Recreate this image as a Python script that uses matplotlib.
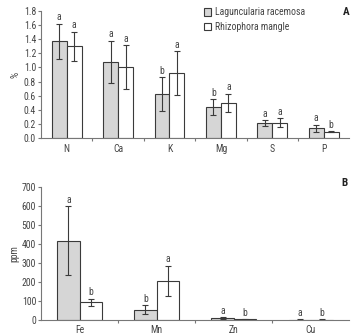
import matplotlib
matplotlib.use("Agg")
import matplotlib.pyplot as plt
import numpy as np

plt.rcParams['font.family'] = ['Roboto Condensed', 'DejaVu Sans']

# panel A: macronutrients (%)
macro = ["N", "Ca", "K", "Mg", "S", "P"]
lag_macro = [1.37, 1.08, 0.62, 0.44, 0.21, 0.14]
lag_macro_err = [0.25, 0.30, 0.24, 0.11, 0.04, 0.05]
rhi_macro = [1.30, 1.01, 0.92, 0.50, 0.22, 0.09]
rhi_macro_err = [0.21, 0.31, 0.31, 0.13, 0.06, 0.01]
lag_macro_let = ["a", "a", "b", "b", "a", "a"]
rhi_macro_let = ["a", "a", "a", "a", "a", "b"]

# panel B: micronutrients (ppm)
micro = ["Fe", "Mn", "Zn", "Cu"]
lag_micro = [418, 54, 10, 2]
lag_micro_err = [180, 23, 3, 1]
rhi_micro = [93, 205, 3, 2]
rhi_micro_err = [18, 80, 1, 1]
lag_micro_let = ["a", "b", "a", "a"]
rhi_micro_let = ["b", "a", "b", "b"]

txt = "#444444"
edge = "#3a3a3a"
gray = "#d6d6d6"
w = 0.29

fig = plt.figure(figsize=(3.53, 3.35), dpi=100)
axA = fig.add_axes([0.116, 0.588, 0.874, 0.379])
axB = fig.add_axes([0.116, 0.045, 0.874, 0.397])


def draw(ax, cats, lag, lag_e, rhi, rhi_e, lag_l, rhi_l, ymax, step, fmt, pad, ylabel):
    x = np.arange(len(cats))
    ax.bar(x - w / 2, lag, w, yerr=lag_e, color=gray, edgecolor=edge, linewidth=0.8,
           error_kw=dict(ecolor=edge, elinewidth=0.8, capsize=2, capthick=0.8),
           label="Laguncularia racemosa")
    ax.bar(x + w / 2, rhi, w, yerr=rhi_e, color="white", edgecolor=edge, linewidth=0.8,
           error_kw=dict(ecolor=edge, elinewidth=0.8, capsize=2, capthick=0.8),
           label="Rhizophora mangle")
    for i in range(len(cats)):
        ax.text(x[i] - w / 2, lag[i] + lag_e[i] + pad, lag_l[i], ha="center", va="bottom",
                fontsize=7, color=txt)
        ax.text(x[i] + w / 2, rhi[i] + rhi_e[i] + pad, rhi_l[i], ha="center", va="bottom",
                fontsize=7, color=txt)
    ax.set_xlim(-0.5, len(cats) - 0.5)
    ax.set_ylim(0, ymax)
    ax.set_yticks(np.arange(0, ymax + step / 2, step))
    ax.yaxis.set_major_formatter(plt.FormatStrFormatter(fmt))
    ax.set_xticks(x)
    ax.set_xticklabels(cats)
    ax.set_xticks(np.arange(0.5, len(cats) - 0.5), minor=True)
    ax.tick_params(axis="x", which="major", length=0, pad=4, labelsize=7, labelcolor=txt)
    ax.tick_params(axis="x", which="minor", length=2, width=0.8, color="#777777")
    ax.tick_params(axis="y", length=2, width=0.8, color="#777777", labelsize=7,
                   labelcolor=txt, pad=1.5)
    for s in ["top", "right"]:
        ax.spines[s].set_visible(False)
    for s in ["left", "bottom"]:
        ax.spines[s].set_color("#777777")
        ax.spines[s].set_linewidth(0.8)
    ax.set_ylabel(ylabel, fontsize=7, color=txt, labelpad=2)


draw(axA, macro, lag_macro, lag_macro_err, rhi_macro, rhi_macro_err,
     lag_macro_let, rhi_macro_let, 1.8, 0.2, "%.1f", 0.02, "%")
draw(axB, micro, lag_micro, lag_micro_err, rhi_micro, rhi_micro_err,
     lag_micro_let, rhi_micro_let, 700, 100, "%d", 8, "ppm")

axA.legend(loc="upper left", bbox_to_anchor=(0.527, 1.03), frameon=False, fontsize=7,
           borderaxespad=0, borderpad=0,
           handlelength=0.8, handleheight=0.8, handletextpad=0.4, labelspacing=0.45,
           labelcolor=txt)

fig.text(0.99, 0.964, "A", fontsize=8, fontweight="bold", color="#222222", ha="right", va="center")
fig.text(0.985, 0.454, "B", fontsize=8, fontweight="bold", color="#222222", ha="right", va="center")

fig.savefig("out.png", dpi=100)
